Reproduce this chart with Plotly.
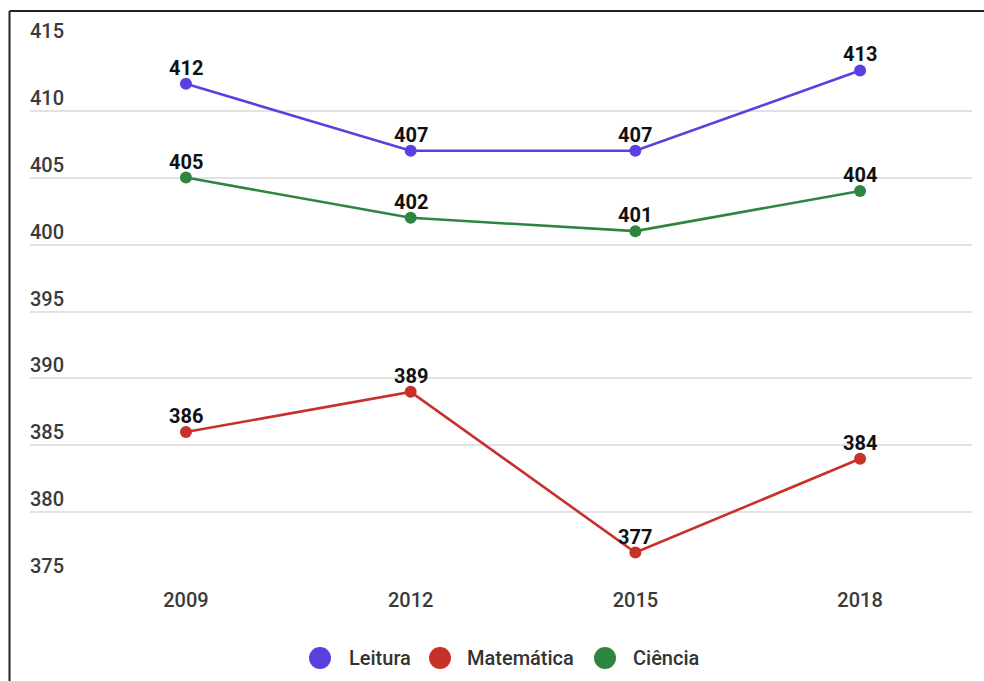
import plotly.graph_objects as go

# PISA-style averages by year
years = ["2009", "2012", "2015", "2018"]
leitura = [412, 407, 407, 413]
matematica = [386, 389, 377, 384]
ciencia = [405, 402, 401, 404]

series = [
    ("Leitura", leitura, "#5b40e0"),
    ("Matemática", matematica, "#c8302a"),
    ("Ciência", ciencia, "#2e8540"),
]

y_ticks = [375, 380, 385, 390, 395, 400, 405, 410, 415]
y_min, y_max = 375, 415

FONT = "Roboto, Arial, sans-serif"
W, H = 984, 681
ML, MR, MT, MB = 30, 12, 43, 101
PW, PH = W - ML - MR, H - MT - MB


def px_x(px):
    """Page pixel x -> paper coordinate."""
    return (px - ML) / PW


def px_y(py):
    """Page pixel y -> paper coordinate."""
    return (H - MB - py) / PH


fig = go.Figure()

annotations = []
for name, values, color in series:
    fig.add_trace(go.Scatter(
        x=years, y=values, name=name,
        mode="lines+markers",
        line=dict(color=color, width=2.6),
        marker=dict(color=color, size=12),
        showlegend=False,
        cliponaxis=False,
    ))
    # value labels just above each point (category index on the x axis)
    for i, v in enumerate(values):
        annotations.append(dict(
            x=i, y=v, xref="x", yref="y", text=str(v), showarrow=False,
            xanchor="center", yanchor="bottom", yshift=2,
            font=dict(family=FONT, size=20, color="#111111", weight=700),
        ))

# y tick labels sit above their gridlines, left-aligned
for v in y_ticks:
    annotations.append(dict(
        x=0, xref="paper", y=v, yref="y", text=str(v), showarrow=False,
        xanchor="left", yanchor="bottom", yshift=-1, xshift=-2,
        font=dict(family=FONT, size=20, color="#3a3a3a", weight=500),
    ))

# frame lines along the top and left edges
shapes = [
    dict(type="line", xref="paper", yref="paper", x0=px_x(9.5), x1=px_x(1000),
         y0=px_y(11), y1=px_y(11), line=dict(color="#222222", width=2)),
    dict(type="line", xref="paper", yref="paper", x0=px_x(9.5), x1=px_x(9.5),
         y0=px_y(11), y1=px_y(700), line=dict(color="#222222", width=2)),
]

# legend drawn as large circles with labels
legend_items = [(320, 347), (440, 465), (605, 631)]
for (cx, tx), (name, _, color) in zip(legend_items, series):
    shapes.append(dict(
        type="circle", xref="paper", yref="paper",
        xsizemode="pixel", ysizemode="pixel",
        xanchor=px_x(cx), yanchor=px_y(658),
        x0=-11, x1=11, y0=-11, y1=11,
        fillcolor=color, line=dict(width=0),
    ))
    annotations.append(dict(
        x=px_x(tx), y=px_y(658), xref="paper", yref="paper", text=name,
        showarrow=False, xanchor="left", yanchor="middle",
        font=dict(family=FONT, size=20, color="#333333", weight=500),
    ))

fig.update_layout(
    width=W, height=H,
    margin=dict(l=ML, r=MR, t=MT, b=MB),
    paper_bgcolor="white", plot_bgcolor="white",
    font=dict(family=FONT, size=20, color="#3a3a3a"),
    showlegend=False,
    xaxis=dict(
        type="category", range=[-0.694, 3.498],
        showgrid=False, zeroline=False, showline=False, ticks="",
        tickfont=dict(family=FONT, size=20, color="#3a3a3a", weight=500),
        ticklabelstandoff=6,
    ),
    yaxis=dict(
        range=[y_min - 0.05, y_max + 0.05], tickvals=y_ticks, showticklabels=False,
        showgrid=True, gridcolor="#e2e2e2", gridwidth=2,
        zeroline=False, showline=False, ticks="",
    ),
    annotations=annotations,
    shapes=shapes,
)

fig.write_html("out.html")
